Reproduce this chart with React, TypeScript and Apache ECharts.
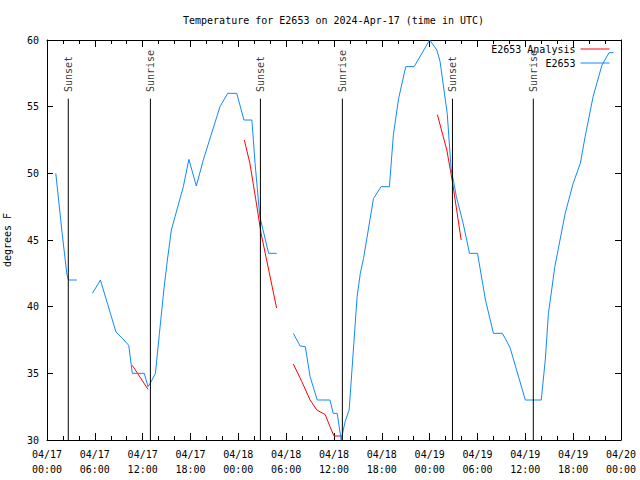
import React, { useEffect, useRef } from "react";
import * as echarts from "echarts";

// Hours since 2024-04-17 00:00 UTC
const obsHours = [
  1.1, 1.9, 2.5, 2.7, 3.75, null,
  5.7, 6.7, 8.65, 9.5, 10.25, 10.7, 12.2, 12.67, 13.0, 13.6, 14.1, 14.7, 15.1, 15.6, 16.06, 17.1, 17.8, 18.73, 19.6, 21.7, 22.67, 23.8, 24.7, 25.7, 26.1, 26.7, 27.8, 28.8, null,
  30.9, 31.75, 32.4, 33.0, 33.9, 35.5, 35.9, 36.4, 36.9, 37.4, 37.9, 38.9, 39.3, 39.7, 40.95, 41.9, 42.95, 43.45, 44.1, 45.0, 46.05, 48.0, 48.9, 49.3, 50.2, 50.7, 51.0, 51.35, 52.2, 53.0, 54.0, 55.0, 56.0, 57.1, 57.5, 58.1, 58.9, 60.0, 62.0, 62.5, 62.9, 63.7, 65.0, 66.0, 66.9, 67.5, 68.5, 69.6, 70.5, 71.05,
];
const obsTemps = [
  50.0, 45.5, 42.4, 42.0, 42.0, null,
  41.0, 42.0, 38.1, 37.6, 37.1, 35.0, 35.0, 34.0, 34.3, 35.0, 38.0, 41.5, 43.5, 45.75, 46.75, 49.0, 51.05, 49.05, 51.0, 55.0, 56.0, 56.0, 54.0, 54.0, 50.75, 46.75, 44.0, 44.0, null,
  38.0, 37.05, 37.0, 34.75, 33.0, 33.0, 32.0, 32.0, 30.0, 31.4, 32.25, 40.75, 42.5, 43.6, 48.1, 49.0, 49.0, 52.9, 55.6, 58.0, 58.0, 60.0, 59.25, 58.4, 54.5, 50.25, 49.4, 48.25, 46.25, 44.0, 44.0, 40.5, 38.0, 38.0, 37.6, 36.9, 35.25, 33.0, 33.0, 36.0, 39.5, 43.0, 47.0, 49.25, 50.75, 52.75, 55.75, 58.1, 59.05, 59.05,
];

const anaHours = [
  10.7, 12.67, null,
  24.75, 25.45, 26.2, 26.85, 27.55, 28.8, null,
  30.9, 31.95, 33.0, 33.85, 34.9, 35.5, 36.0, 37.0, null,
  48.97, 50.15, 50.85, 51.95,
];
const anaTemps = [
  35.6, 33.8, null,
  52.5, 50.75, 48.0, 45.5, 43.5, 39.9, null,
  35.7, 34.4, 33.0, 32.25, 31.9, 31.0, 30.3, 30.3, null,
  54.4, 51.75, 49.4, 45.0,
];

const sunHours = [2.67, 12.97, 26.77, 37.05, 50.86, 61.0];
const sunLabels = ["Sunset", "Sunrise", "Sunset", "Sunrise", "Sunset", "Sunrise"];
const sunLineTop = 55.6;
const sunLabelAt = 56.1;

const months = "04";
const startDay = 17;

const FONT = "DejaVu Sans Mono";

function pairs(xs: (number | null)[], ys: (number | null)[]) {
  return xs.map((x, i) => (x === null || ys[i] === null ? [null, null] : [x, ys[i]]));
}

export default function App() {
  const ref = useRef<HTMLDivElement>(null);
  useEffect(() => {
    if (!ref.current) return;
    const chart = echarts.init(ref.current, undefined, { renderer: "svg" });

    const sunLineData: any[] = [];
    sunHours.forEach((h) => {
      sunLineData.push([h, 30], [h, sunLineTop], [null, null]);
    });

    const xLabel = (v: number) => {
      const d = startDay + Math.floor(v / 24);
      const hh = v % 24;
      return `${months}/${d}\n${String(hh).padStart(2, "0")}:00`;
    };

    const axisCommon = {
      axisLine: { show: true, onZero: false, lineStyle: { color: "#000", width: 1 } },
      splitLine: { show: false },
    };

    chart.setOption({
      animation: false,
      backgroundColor: "#fff",
      title: {
        text: "Temperature for E2653 on 2024-Apr-17 (time in UTC)",
        left: 183,
        top: 15,
        padding: 0,
        textStyle: { fontFamily: FONT, fontSize: 10, fontWeight: "normal", color: "#000" },
      },
      legend: {
        data: ["E2653 Analysis", "E2653"],
        orient: "vertical",
        right: 30,
        top: 43,
        align: "right",
        itemWidth: 29,
        itemHeight: 12,
        itemGap: 2,
        padding: 0,
        itemStyle: { opacity: 0 },
        lineStyle: { width: 1 },
        textStyle: { fontFamily: FONT, fontSize: 10, color: "#000", lineHeight: 12 },
      },
      grid: { left: 47, right: 19, top: 40, bottom: 40, outerBoundsMode: "none", containLabel: false },
      xAxis: [
        {
          type: "value",
          min: 0,
          max: 72,
          interval: 6,
          ...axisCommon,
          axisTick: { show: true, inside: true, length: 7, lineStyle: { color: "#000" } },
          minorTick: { show: true, splitNumber: 3, length: 4, lineStyle: { color: "#000" } },
          axisLabel: {
            formatter: xLabel,
            fontFamily: FONT,
            fontSize: 10,
            color: "#000",
            lineHeight: 15,
            margin: 7,
          },
        },
        {
          type: "value",
          position: "top",
          min: 0,
          max: 72,
          interval: 6,
          ...axisCommon,
          axisTick: { show: true, inside: true, length: 7, lineStyle: { color: "#000" } },
          minorTick: { show: true, splitNumber: 3, length: 4, lineStyle: { color: "#000" } },
          axisLabel: { show: false },
        },
      ],
      yAxis: [
        {
          type: "value",
          min: 30,
          max: 60,
          interval: 5,
          ...axisCommon,
          name: "degrees F",
          nameLocation: "middle",
          nameGap: 35,
          nameRotate: 90,
          nameTextStyle: { fontFamily: FONT, fontSize: 10, color: "#000" },
          axisTick: { show: true, inside: true, length: 6, lineStyle: { color: "#000" } },
          axisLabel: { fontFamily: FONT, fontSize: 10, color: "#000", margin: 8 },
        },
        {
          type: "value",
          position: "right",
          min: 30,
          max: 60,
          interval: 5,
          ...axisCommon,
          axisTick: { show: true, inside: true, length: 6, lineStyle: { color: "#000" } },
          axisLabel: { show: false },
        },
      ],
      series: [
        {
          name: "E2653 Analysis",
          type: "line",
          data: pairs(anaHours, anaTemps),
          symbol: "none",
          connectNulls: false,
          lineStyle: { color: "#ff0000", width: 1 },
          itemStyle: { color: "#ff0000" },
          z: 3,
        },
        {
          name: "E2653",
          type: "line",
          data: pairs(obsHours, obsTemps),
          symbol: "none",
          connectNulls: false,
          lineStyle: { color: "#1188ff", width: 1 },
          itemStyle: { color: "#1188ff" },
          z: 4,
        },
        {
          name: "sun",
          type: "line",
          data: sunLineData,
          symbol: "none",
          connectNulls: false,
          lineStyle: { color: "#000", width: 1 },
          z: 5,
          silent: true,
        },
        {
          name: "sunLabels",
          type: "scatter",
          data: sunHours.map((h, i) => ({ value: [h, sunLabelAt], name: sunLabels[i] })),
          symbolSize: 0,
          z: 5,
          silent: true,
          label: {
            show: true,
            formatter: (p: any) => p.name,
            position: "inside",
            rotate: 90,
            align: "left",
            verticalAlign: "middle",
            fontFamily: FONT,
            fontSize: 10,
            color: "#000",
          },
        },
      ],
    });
    return () => chart.dispose();
  }, []);

  return (
    <div
      ref={ref}
      style={{ position: "fixed", left: 0, top: 0, width: 640, height: 480, background: "#fff" }}
    />
  );
}
